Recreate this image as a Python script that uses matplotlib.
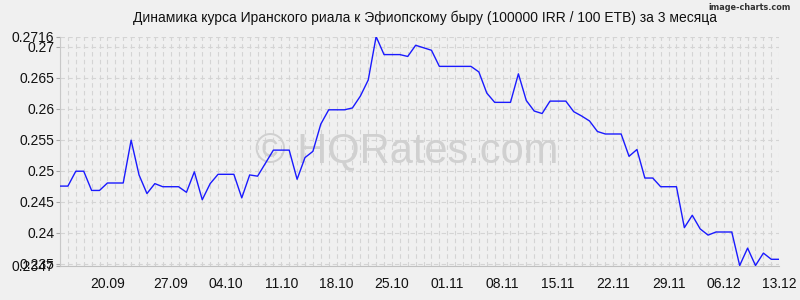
import matplotlib
matplotlib.use("Agg")
import matplotlib.pyplot as plt

# курс за 92 точки (100000 IRR / 100 ETB)
rates = [
    0.2475, 0.2475, 0.2499, 0.2499, 0.2468, 0.2468, 0.2480, 0.2480, 0.2480, 0.2549,
    0.2493, 0.2463, 0.2479, 0.2474, 0.2474, 0.2474, 0.2465, 0.2498, 0.2453, 0.2479,
    0.2494, 0.2494, 0.2494, 0.2456, 0.2493, 0.2491, 0.2512, 0.2533, 0.2533, 0.2533,
    0.2486, 0.2521, 0.2531, 0.2575, 0.2598, 0.2598, 0.2598, 0.2601, 0.2620, 0.2646,
    0.2716, 0.2687, 0.2687, 0.2687, 0.2684, 0.2702, 0.2698, 0.2694, 0.2668, 0.2668,
    0.2668, 0.2668, 0.2668, 0.2659, 0.2625, 0.2610, 0.2610, 0.2610, 0.2656, 0.2613,
    0.2596, 0.2592, 0.2612, 0.2612, 0.2612, 0.2595, 0.2588, 0.2580, 0.2563, 0.2559,
    0.2559, 0.2559, 0.2523, 0.2534, 0.2488, 0.2488, 0.2474, 0.2474, 0.2474, 0.2408,
    0.2428, 0.2406, 0.2396, 0.2401, 0.2401, 0.2401, 0.2347, 0.2375, 0.2347, 0.2367,
    0.2357, 0.2357,
]

date_ticks = [6, 14, 21, 28, 35, 42, 49, 56, 63, 70, 77, 84, 91]
date_labels = ["20.09", "27.09", "04.10", "11.10", "18.10", "25.10", "01.11",
               "08.11", "15.11", "22.11", "29.11", "06.12", "13.12"]

y_min = 0.2347
y_max = 0.2716
y_ticks = [0.235, 0.24, 0.245, 0.25, 0.255, 0.26, 0.265, 0.27]

title = "Динамика курса Иранского риала к Эфиопскому быру (100000 IRR / 100 ETB) за 3 месяца"

plt.rcParams['font.family'] = ['Liberation Sans', 'DejaVu Sans']

bg = "#f0f0f0"
fig = plt.figure(figsize=(8, 3), dpi=100, facecolor=bg)
ax = fig.add_axes([0.075, 0.115, 0.899, 0.763], facecolor=bg)

x = list(range(len(rates)))

# сетка
grid_kw = dict(color="#d4d4d4", lw=0.8, dashes=(4, 3), zorder=1)
for xi in x:
    ax.axvline(xi, **grid_kw)
for yv in y_ticks + [y_max]:
    ax.axhline(yv, **grid_kw)

ax.text(0.482, 0.5, "© HQRates.com", transform=ax.transAxes, ha="center", va="center",
        fontsize=30, color="#d0d0d0", zorder=2)

ax.plot(x, rates, color="#1a1aff", lw=1.0, zorder=3)

ax.set_xlim(0, len(rates) - 1)
ax.set_ylim(y_min, y_max)

ax.set_xticks(date_ticks)
ax.set_xticklabels(date_labels)
all_yticks = [y_min] + y_ticks + [y_max]
ax.set_yticks(all_yticks)
ax.set_yticklabels([("%.4f" % v).rstrip("0") for v in all_yticks])
ax.tick_params(axis="y", length=3, color="#aaaaaa", labelsize=10, labelcolor="#111111", pad=1)
ax.tick_params(axis="x", length=0, labelsize=10, labelcolor="#111111", pad=8)

for s in ["top", "right"]:
    ax.spines[s].set_visible(False)
ax.spines["left"].set_color("#c8c8c8")
ax.spines["bottom"].set_color("#c0c0c0")
ax.spines["left"].set_linewidth(0.8)
ax.spines["bottom"].set_linewidth(0.8)

fig.text(0.531, 0.94, title, ha="center", va="center", fontsize=10, color="#111111")
fig.text(0.988, 0.975, "image-charts.com", ha="right", va="center", fontsize=6.5,
         color="#333333", family="DejaVu Sans", fontstretch="condensed", fontweight="bold")

fig.savefig("out.png", dpi=100, facecolor=bg)
